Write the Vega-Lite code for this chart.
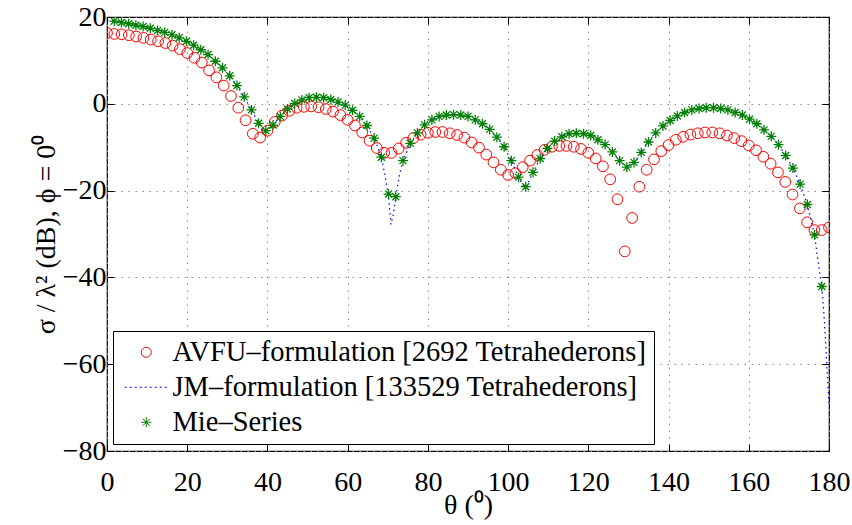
{
  "$schema": "https://vega.github.io/schema/vega-lite/v6.json",
  "width": 722,
  "height": 434,
  "autosize": {"type": "none"},
  "padding": {"left": 107, "top": 17, "right": 23, "bottom": 74},
  "background": "white",
  "config": {
    "font": "Liberation Serif",
    "view": {"stroke": "black", "strokeWidth": 1.2},
    "axis": {
      "labelFont": "Liberation Serif",
      "labelFontSize": 28,
      "labelColor": "black",
      "titleFont": "Liberation Serif",
      "titleFontSize": 28,
      "titleFontWeight": "normal",
      "titleColor": "black",
      "domain": false,
      "tickColor": "black",
      "tickWidth": 1,
      "tickSize": -7,
      "gridColor": "#8c8c8c",
      "gridDash": [1.5, 5.5],
      "gridWidth": 1,
      "labelFlush": false,
      "labelOverlap": false
    },
    "legend": {
      "labelFont": "Liberation Serif",
      "labelFontSize": 28.5,
      "labelColor": "black",
      "labelLimit": 0
    }
  },
  "data": {
    "values": [
      {"s":"A","t":0,"v":16.3},{"s":"A","t":1.82,"v":16.1},{"s":"A","t":3.64,"v":16.0},{"s":"A","t":5.45,"v":15.8},{"s":"A","t":7.27,"v":15.5},{"s":"A","t":9.09,"v":15.2},{"s":"A","t":10.91,"v":14.8},{"s":"A","t":12.73,"v":14.4},{"s":"A","t":14.55,"v":14.0},{"s":"A","t":16.36,"v":13.4},
      {"s":"A","t":18.18,"v":12.6},{"s":"A","t":20,"v":11.7},{"s":"A","t":21.82,"v":10.6},{"s":"A","t":23.64,"v":9.5},{"s":"A","t":25.45,"v":7.7},{"s":"A","t":27.27,"v":6.1},{"s":"A","t":29.09,"v":4.2},{"s":"A","t":30.91,"v":1.8},{"s":"A","t":32.73,"v":-0.9},{"s":"A","t":34.55,"v":-3.8},
      {"s":"A","t":36.36,"v":-6.9},{"s":"A","t":38.18,"v":-7.8},{"s":"A","t":40,"v":-6.2},{"s":"A","t":41.82,"v":-4.2},{"s":"A","t":43.64,"v":-2.7},{"s":"A","t":45.45,"v":-1.6},{"s":"A","t":47.27,"v":-0.9},{"s":"A","t":49.09,"v":-0.7},{"s":"A","t":50.91,"v":-0.6},{"s":"A","t":52.73,"v":-0.8},
      {"s":"A","t":54.55,"v":-1.2},{"s":"A","t":56.36,"v":-1.8},{"s":"A","t":58.18,"v":-2.6},{"s":"A","t":60,"v":-3.7},{"s":"A","t":61.82,"v":-5.0},{"s":"A","t":63.64,"v":-6.6},{"s":"A","t":65.45,"v":-8.5},{"s":"A","t":67.27,"v":-10.2},{"s":"A","t":69.09,"v":-11.3},{"s":"A","t":70.91,"v":-11.3},
      {"s":"A","t":72.73,"v":-10.3},{"s":"A","t":74.55,"v":-9.0},{"s":"A","t":76.36,"v":-7.9},{"s":"A","t":78.18,"v":-7.1},{"s":"A","t":80,"v":-6.7},{"s":"A","t":81.82,"v":-6.5},{"s":"A","t":83.64,"v":-6.5},{"s":"A","t":85.45,"v":-6.8},{"s":"A","t":87.27,"v":-7.2},{"s":"A","t":89.09,"v":-7.8},
      {"s":"A","t":90.91,"v":-8.9},{"s":"A","t":92.73,"v":-10.1},{"s":"A","t":94.55,"v":-11.7},{"s":"A","t":96.36,"v":-13.5},{"s":"A","t":98.18,"v":-15.2},{"s":"A","t":100,"v":-16.4},{"s":"A","t":101.82,"v":-16.0},{"s":"A","t":103.64,"v":-14.6},{"s":"A","t":105.45,"v":-13.1},{"s":"A","t":107.27,"v":-11.8},
      {"s":"A","t":109.09,"v":-10.6},{"s":"A","t":110.91,"v":-9.9},{"s":"A","t":112.73,"v":-9.7},{"s":"A","t":114.55,"v":-9.7},{"s":"A","t":116.36,"v":-9.9},{"s":"A","t":118.18,"v":-10.4},{"s":"A","t":120,"v":-11.3},{"s":"A","t":121.82,"v":-12.6},{"s":"A","t":123.64,"v":-14.4},{"s":"A","t":125.45,"v":-17.4},
      {"s":"A","t":127.27,"v":-22.0},{"s":"A","t":129.09,"v":-34.0},{"s":"A","t":130.91,"v":-26.3},{"s":"A","t":132.73,"v":-19.1},{"s":"A","t":134.55,"v":-15.2},{"s":"A","t":136.36,"v":-12.8},{"s":"A","t":138.18,"v":-10.9},{"s":"A","t":140,"v":-9.5},{"s":"A","t":141.82,"v":-8.3},{"s":"A","t":143.64,"v":-7.6},
      {"s":"A","t":145.45,"v":-7.1},{"s":"A","t":147.27,"v":-6.8},{"s":"A","t":149.09,"v":-6.6},{"s":"A","t":150.91,"v":-6.6},{"s":"A","t":152.73,"v":-6.8},{"s":"A","t":154.55,"v":-7.3},{"s":"A","t":156.36,"v":-7.9},{"s":"A","t":158.18,"v":-8.6},{"s":"A","t":160,"v":-9.6},{"s":"A","t":161.82,"v":-10.7},
      {"s":"A","t":163.64,"v":-12.2},{"s":"A","t":165.45,"v":-13.8},{"s":"A","t":167.27,"v":-15.8},{"s":"A","t":169.09,"v":-18.0},{"s":"A","t":170.91,"v":-20.9},{"s":"A","t":172.73,"v":-24.1},{"s":"A","t":174.55,"v":-27.3},{"s":"A","t":176.36,"v":-29.1},{"s":"A","t":178.18,"v":-29.1},{"s":"A","t":180,"v":-28.5},

      {"s":"J","t":0,"v":19.3},{"s":"J","t":1.8,"v":19.05},{"s":"J","t":3.6,"v":18.75},{"s":"J","t":5.4,"v":18.45},{"s":"J","t":7.2,"v":18.1},{"s":"J","t":9,"v":17.8},{"s":"J","t":10.8,"v":17.4},{"s":"J","t":12.6,"v":16.9},{"s":"J","t":14.4,"v":16.45},{"s":"J","t":16.2,"v":15.9},
      {"s":"J","t":18,"v":15.2},{"s":"J","t":19.8,"v":14.4},{"s":"J","t":21.6,"v":13.5},{"s":"J","t":23.4,"v":12.45},{"s":"J","t":25.2,"v":11.35},{"s":"J","t":27,"v":9.8},{"s":"J","t":28.8,"v":8.3},{"s":"J","t":30.6,"v":6.45},{"s":"J","t":32.4,"v":4.2},{"s":"J","t":34.2,"v":1.6},
      {"s":"J","t":36,"v":-1.4},{"s":"J","t":37.8,"v":-4.5},{"s":"J","t":38.7,"v":-6.0},{"s":"J","t":39.6,"v":-6.3},{"s":"J","t":41.4,"v":-4.9},{"s":"J","t":43.2,"v":-2.9},{"s":"J","t":45,"v":-1.2},{"s":"J","t":46.8,"v":0.05},{"s":"J","t":48.6,"v":0.9},{"s":"J","t":50.4,"v":1.4},{"s":"J","t":52.2,"v":1.5},
      {"s":"J","t":54,"v":1.4},{"s":"J","t":55.8,"v":1.0},{"s":"J","t":57.6,"v":0.4},{"s":"J","t":59.4,"v":-0.3},{"s":"J","t":61.2,"v":-1.5},{"s":"J","t":63,"v":-2.9},{"s":"J","t":64.8,"v":-5.0},{"s":"J","t":66.6,"v":-7.9},{"s":"J","t":68.4,"v":-12.3},{"s":"J","t":69.3,"v":-16.5},
      {"s":"J","t":70.2,"v":-21.5},{"s":"J","t":70.8,"v":-27.8},{"s":"J","t":71.4,"v":-25.5},{"s":"J","t":72,"v":-21.2},{"s":"J","t":72.9,"v":-16.5},{"s":"J","t":73.8,"v":-13.1},{"s":"J","t":75.6,"v":-9.1},{"s":"J","t":77.4,"v":-6.7},{"s":"J","t":79.2,"v":-4.85},{"s":"J","t":81,"v":-3.7},
      {"s":"J","t":82.8,"v":-2.9},{"s":"J","t":84.6,"v":-2.6},{"s":"J","t":86.4,"v":-2.5},{"s":"J","t":88.2,"v":-2.6},{"s":"J","t":90,"v":-2.9},{"s":"J","t":91.8,"v":-3.7},{"s":"J","t":93.6,"v":-4.6},{"s":"J","t":95.4,"v":-5.9},{"s":"J","t":97.2,"v":-7.7},{"s":"J","t":99,"v":-9.9},
      {"s":"J","t":100.8,"v":-13.1},{"s":"J","t":102.6,"v":-16.9},{"s":"J","t":103.5,"v":-18.6},{"s":"J","t":104.4,"v":-19.3},{"s":"J","t":105.3,"v":-17.6},{"s":"J","t":106.2,"v":-15.8},{"s":"J","t":108,"v":-12.6},{"s":"J","t":109.8,"v":-10.3},{"s":"J","t":111.6,"v":-8.6},{"s":"J","t":113.4,"v":-7.6},{"s":"J","t":115.2,"v":-6.9},
      {"s":"J","t":117,"v":-6.8},{"s":"J","t":118.8,"v":-6.9},{"s":"J","t":120.6,"v":-7.3},{"s":"J","t":122.4,"v":-8.3},{"s":"J","t":124.2,"v":-9.4},{"s":"J","t":126,"v":-11.1},{"s":"J","t":127.8,"v":-13.1},{"s":"J","t":129.6,"v":-14.8},{"s":"J","t":131.4,"v":-13.5},{"s":"J","t":133.2,"v":-11.2},
      {"s":"J","t":135,"v":-8.8},{"s":"J","t":136.8,"v":-6.7},{"s":"J","t":138.6,"v":-5.1},{"s":"J","t":140.4,"v":-3.85},{"s":"J","t":142.2,"v":-2.8},{"s":"J","t":144,"v":-2.0},{"s":"J","t":145.8,"v":-1.4},{"s":"J","t":147.6,"v":-1.1},{"s":"J","t":149.4,"v":-0.9},{"s":"J","t":151.2,"v":-0.9},
      {"s":"J","t":153,"v":-1.1},{"s":"J","t":154.8,"v":-1.4},{"s":"J","t":156.6,"v":-2.0},{"s":"J","t":158.4,"v":-2.6},{"s":"J","t":160.2,"v":-3.55},{"s":"J","t":162,"v":-4.6},{"s":"J","t":163.8,"v":-6.0},{"s":"J","t":165.6,"v":-7.5},{"s":"J","t":167.4,"v":-9.4},{"s":"J","t":169.2,"v":-11.9},
      {"s":"J","t":171,"v":-14.8},{"s":"J","t":172.8,"v":-18.5},{"s":"J","t":174.6,"v":-23.2},{"s":"J","t":176.4,"v":-30.2},{"s":"J","t":177,"v":-34.5},{"s":"J","t":177.6,"v":-38.5},{"s":"J","t":178.2,"v":-42.1},{"s":"J","t":178.7,"v":-48},{"s":"J","t":179.1,"v":-54},{"s":"J","t":179.5,"v":-61},{"s":"J","t":180,"v":-69},

      {"s":"M","t":1.8,"v":19.05},{"s":"M","t":3.6,"v":18.75},{"s":"M","t":5.4,"v":18.45},{"s":"M","t":7.2,"v":18.1},{"s":"M","t":9,"v":17.8},{"s":"M","t":10.8,"v":17.4},{"s":"M","t":12.6,"v":16.9},{"s":"M","t":14.4,"v":16.45},{"s":"M","t":16.2,"v":15.9},
      {"s":"M","t":18,"v":15.2},{"s":"M","t":19.8,"v":14.4},{"s":"M","t":21.6,"v":13.5},{"s":"M","t":23.4,"v":12.45},{"s":"M","t":25.2,"v":11.35},{"s":"M","t":27,"v":9.8},{"s":"M","t":28.8,"v":8.3},{"s":"M","t":30.6,"v":6.45},{"s":"M","t":32.4,"v":4.2},{"s":"M","t":34.2,"v":1.6},
      {"s":"M","t":36,"v":-1.4},{"s":"M","t":37.8,"v":-4.5},{"s":"M","t":39.6,"v":-6.2},{"s":"M","t":41.4,"v":-4.9},{"s":"M","t":43.2,"v":-2.9},{"s":"M","t":45,"v":-1.2},{"s":"M","t":46.8,"v":0.05},{"s":"M","t":48.6,"v":0.9},{"s":"M","t":50.4,"v":1.4},{"s":"M","t":52.2,"v":1.5},
      {"s":"M","t":54,"v":1.4},{"s":"M","t":55.8,"v":1.0},{"s":"M","t":57.6,"v":0.4},{"s":"M","t":59.4,"v":-0.3},{"s":"M","t":61.2,"v":-1.5},{"s":"M","t":63,"v":-2.9},{"s":"M","t":64.8,"v":-5.0},{"s":"M","t":66.6,"v":-7.9},{"s":"M","t":68.4,"v":-12.3},{"s":"M","t":70.2,"v":-20.8},
      {"s":"M","t":72,"v":-21.4},{"s":"M","t":73.8,"v":-13.1},{"s":"M","t":75.6,"v":-9.1},{"s":"M","t":77.4,"v":-6.7},{"s":"M","t":79.2,"v":-4.85},{"s":"M","t":81,"v":-3.7},{"s":"M","t":82.8,"v":-2.9},{"s":"M","t":84.6,"v":-2.6},{"s":"M","t":86.4,"v":-2.5},{"s":"M","t":88.2,"v":-2.6},
      {"s":"M","t":90,"v":-2.9},{"s":"M","t":91.8,"v":-3.7},{"s":"M","t":93.6,"v":-4.6},{"s":"M","t":95.4,"v":-5.9},{"s":"M","t":97.2,"v":-7.7},{"s":"M","t":99,"v":-9.9},{"s":"M","t":100.8,"v":-13.1},{"s":"M","t":102.6,"v":-16.9},{"s":"M","t":104.4,"v":-19.1},{"s":"M","t":106.2,"v":-15.8},
      {"s":"M","t":108,"v":-12.6},{"s":"M","t":109.8,"v":-10.3},{"s":"M","t":111.6,"v":-8.6},{"s":"M","t":113.4,"v":-7.6},{"s":"M","t":115.2,"v":-6.9},{"s":"M","t":117,"v":-6.8},{"s":"M","t":118.8,"v":-6.9},{"s":"M","t":120.6,"v":-7.3},{"s":"M","t":122.4,"v":-8.3},{"s":"M","t":124.2,"v":-9.4},
      {"s":"M","t":126,"v":-11.1},{"s":"M","t":127.8,"v":-13.1},{"s":"M","t":129.6,"v":-14.6},{"s":"M","t":131.4,"v":-13.5},{"s":"M","t":133.2,"v":-11.2},{"s":"M","t":135,"v":-8.8},{"s":"M","t":136.8,"v":-6.7},{"s":"M","t":138.6,"v":-5.1},{"s":"M","t":140.4,"v":-3.85},{"s":"M","t":142.2,"v":-2.8},
      {"s":"M","t":144,"v":-2.0},{"s":"M","t":145.8,"v":-1.4},{"s":"M","t":147.6,"v":-1.1},{"s":"M","t":149.4,"v":-0.9},{"s":"M","t":151.2,"v":-0.9},{"s":"M","t":153,"v":-1.1},{"s":"M","t":154.8,"v":-1.4},{"s":"M","t":156.6,"v":-2.0},{"s":"M","t":158.4,"v":-2.6},{"s":"M","t":160.2,"v":-3.55},
      {"s":"M","t":162,"v":-4.6},{"s":"M","t":163.8,"v":-6.0},{"s":"M","t":165.6,"v":-7.5},{"s":"M","t":167.4,"v":-9.4},{"s":"M","t":169.2,"v":-11.9},{"s":"M","t":171,"v":-14.8},{"s":"M","t":172.8,"v":-18.5},{"s":"M","t":174.6,"v":-23.2},{"s":"M","t":176.4,"v":-30.2},{"s":"M","t":178.2,"v":-42.1}
    ]
  },
  "layer": [
    {
      "mark": {"type": "point", "opacity": 0},
      "encoding": {
        "x": {"field": "t", "type": "quantitative", "scale": {"domain": [0, 180], "nice": false, "zero": false},
              "axis": {"orient": "bottom", "values": [0,20,40,60,80,100,120,140,160,180], "grid": true, "title": "θ (⁰)", "labelPadding": 24, "titlePadding": -5}},
        "y": {"field": "v", "type": "quantitative", "scale": {"domain": [-80, 20], "nice": false, "zero": false},
              "axis": {"orient": "left", "values": [-80,-60,-40,-20,0,20], "grid": true, "title": "σ / λ² (dB), ϕ = 0⁰", "labelPadding": 8, "titlePadding": 2}}
      }
    },
    {
      "mark": {"type": "point", "opacity": 0},
      "encoding": {
        "x": {"field": "t", "type": "quantitative", "axis": {"orient": "top", "values": [0,20,40,60,80,100,120,140,160,180], "grid": false, "labels": false, "title": null}},
        "y": {"field": "v", "type": "quantitative", "axis": {"orient": "right", "values": [-80,-60,-40,-20,0,20], "grid": false, "labels": false, "title": null}}
      }
    },
    {
      "transform": [{"filter": "datum.s == 'A'"}],
      "mark": {"type": "point", "filled": false, "size": 115, "strokeWidth": 1, "clip": true, "opacity": 1},
      "encoding": {
        "x": {"field": "t", "type": "quantitative", "axis": null},
        "y": {"field": "v", "type": "quantitative", "axis": null},
        "color": {"field": "s", "type": "nominal",
          "scale": {"domain": ["A", "J", "M"], "range": ["#ff0000", "#0000ff", "#008000"]},
          "legend": {"title": null, "orient": "none", "legendX": 6, "legendY": 314,
            "labelExpr": "datum.value == 'A' ? 'AVFU–formulation [2692 Tetrahederons]\u00a0\u00a0' : datum.value == 'J' ? 'JM–formulation [133529 Tetrahederons]' : 'Mie–Series'",
            "labelLimit": 0,
            "strokeColor": "black", "fillColor": "white", "padding": 7, "rowPadding": 6, "symbolOffset": 12, "labelOffset": 12, "symbolSize": 100, "symbolStrokeWidth": 1}},
        "shape": {"field": "s", "type": "nominal",
          "scale": {"domain": ["A", "J", "M"], "range": ["circle", "M-4.3,0L-3.9,0M-3.3,0L-2.9,0M-2.3,0L-1.9,0M-1.3,0L-0.9,0M-0.3,0L0.1,0M0.7,0L1.1,0M1.7,0L2.1,0M2.7,0L3.1,0M3.7,0L4.1,0", "M-1,0L1,0M0,-1L0,1M-0.7,-0.7L0.7,0.7M-0.7,0.7L0.7,-0.7"]},
          "legend": null}
      }
    },
    {
      "transform": [{"filter": "datum.s == 'J'"}],
      "mark": {"type": "line", "strokeDash": [1.5, 3.5], "strokeWidth": 1.2, "clip": true},
      "encoding": {
        "x": {"field": "t", "type": "quantitative", "axis": null},
        "y": {"field": "v", "type": "quantitative", "axis": null},
        "color": {"field": "s", "type": "nominal"}
      }
    },
    {
      "transform": [{"filter": "datum.s == 'M'"}],
      "mark": {"type": "point", "filled": false, "size": 100, "strokeWidth": 1.3, "clip": true, "opacity": 1},
      "encoding": {
        "x": {"field": "t", "type": "quantitative", "axis": null},
        "y": {"field": "v", "type": "quantitative", "axis": null},
        "color": {"field": "s", "type": "nominal"},
        "shape": {"field": "s", "type": "nominal"}
      }
    }
  ],
  "resolve": {"axis": {"x": "independent", "y": "independent"}}
}
